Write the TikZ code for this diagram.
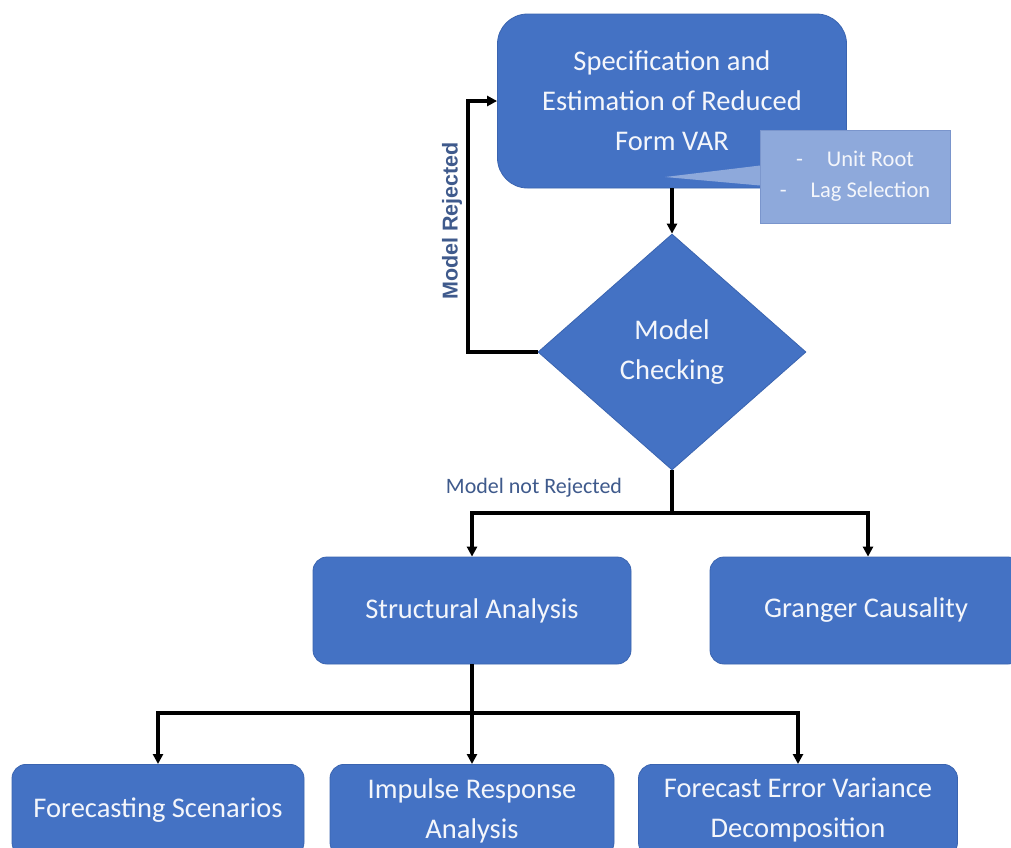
\documentclass[tikz,border=0pt]{standalone}
\usepackage{fontspec}
\setmainfont{Carlito}
\newfontfamily\lblfont{Liberation Sans}
\usetikzlibrary{shapes.geometric,arrows.meta,calc}
\definecolor{boxblue}{HTML}{4472C4}
\definecolor{boxedge}{HTML}{3A64B0}
\definecolor{callblue}{HTML}{8EA9DB}
\definecolor{calledge}{HTML}{7A95CC}
\definecolor{lblcol}{HTML}{3F5A8C}
\definecolor{txtwhite}{HTML}{F4F6FB}
\begin{document}
\begin{tikzpicture}[x=1pt,y=-1pt,
  blk/.style={draw=boxedge, line width=0.8pt, fill=boxblue, text=txtwhite,
    rounded corners=14pt, align=center, inner sep=0pt,
    font=\fontsize{28.5}{40}\selectfont},
  ln/.style={line width=3.2pt, black},
  arr/.style={ln, -{Triangle[length=10pt,width=10pt]}},
  lbl/.style={text=lblcol, inner sep=0pt}]
\clip (0,0) rectangle (1011,847);
\fill[white] (0,0) rectangle (1011,847);

% top box
\node[blk, rounded corners=30pt, minimum width=349pt, minimum height=174pt] (spec) at (672,101)
  {Specification and\\Estimation of Reduced\\Form VAR};

% callout
\coordinate (tip) at (665,177);
\node[draw=calledge, line width=0.8pt, fill=callblue, text=txtwhite, minimum width=190pt,
  minimum height=93pt, align=center, inner sep=0pt,
  font=\fontsize{22.5}{31}\selectfont] (call) at (855,176.5)
  {-\hspace{24pt}Unit Root\\-\hspace{24pt}Lag Selection};
\fill[callblue] ($(call.west)+(0.5,-11)$) -- (tip) -- ($(call.west)+(0.5,9)$) -- cycle;

% diamond
\node[diamond, draw=boxedge, line width=0.8pt, fill=boxblue, text=txtwhite,
  minimum width=268pt, minimum height=236pt, inner sep=0pt, align=center,
  font=\fontsize{28.5}{40}\selectfont] (check) at (672,352) {Model\\Checking};

% middle boxes
\node[blk, minimum width=318pt, minimum height=107pt] (struct) at (472,610.5) {Structural Analysis};
\node[blk, minimum width=312pt, minimum height=107pt] (granger) at (866,610.5) {Granger Causality};

% bottom boxes
\node[blk, anchor=north, minimum width=292pt, minimum height=92pt] (fore) at (158,764) {Forecasting Scenarios};
\node[blk, anchor=north, minimum width=284pt, minimum height=92pt] (imp) at (472,764) {Impulse Response\\Analysis};
\node[blk, anchor=north, minimum width=319pt, minimum height=92pt] (fevd) at (798,764) {Forecast Error Variance\\Decomposition};

% labels
\node[lbl, font=\fontsize{22}{26}\selectfont] (nrlab) at (534,488) {Model not Rejected};
\node[lbl, font=\lblfont\bfseries\fontsize{21.5}{25}\selectfont, rotate=90] (rlab) at (452,221) {Model Rejected};

% connectors
\draw[arr] (spec.south) -- (check.north);
\coordinate (loopL) at (468,352);
\draw[arr] (check.west) -- (loopL) |- (spec.west);
\coordinate (jn1) at (672,513);
\draw[ln] (check.south) -- (jn1);
\draw[arr] (jn1) -| (struct.north);
\draw[arr] (jn1) -| ([xshift=2pt]granger.north);
\coordinate (jn2) at (472,713);
\draw[ln] (struct.south) -- (jn2);
\draw[arr] (jn2) -| (fore.north);
\draw[arr] (jn2) -- (imp.north);
\draw[arr] (jn2) -| (fevd.north);
\end{tikzpicture}
\end{document}
